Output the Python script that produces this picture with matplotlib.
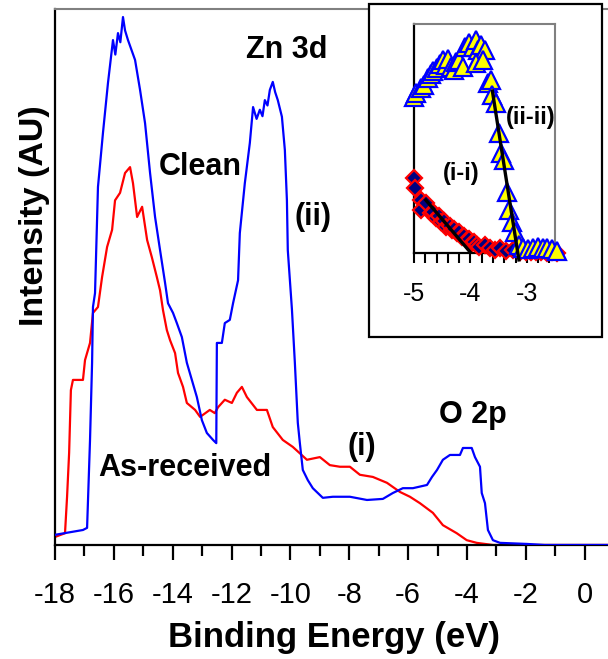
import matplotlib
matplotlib.use("Agg")
import matplotlib.pyplot as plt
from matplotlib.patches import Rectangle
from matplotlib.ticker import MultipleLocator

plt.rcParams['font.family'] = ['Liberation Sans', 'DejaVu Sans']

# ---------------- main spectra ----------------
clean_E = [-18.0, -17.05, -16.91, -16.81, -16.74, -16.71, -16.64, -16.54, -16.37, -16.20,
           -16.03, -15.95, -15.86, -15.78, -15.69, -15.62, -15.52, -15.28, -15.11, -14.94, -14.77, -14.60, -14.43,
           -14.26, -14.16, -13.99, -13.86, -13.69, -13.52, -13.35, -13.18, -13.01, -12.84,
           -12.63, -12.52, -12.50, -12.33, -12.23, -12.06, -11.95, -11.78, -11.72, -11.55,
           -11.38, -11.27, -11.15, -11.04, -10.95, -10.87, -10.78, -10.70, -10.60, -10.52, -10.43, -10.29, -10.19, -10.12,
           -10.09, -9.95, -9.85, -9.75, -9.68, -9.58, -9.41, -9.24, -8.90, -8.56,
           -7.98, -7.40, -6.86, -6.52, -6.18, -5.84, -5.36, -5.19, -5.02, -4.82,
           -4.58, -4.24, -4.14, -3.84, -3.73, -3.56, -3.50, -3.39, -3.29, -3.12,
           -2.88, -1.97, -1.36, 0.8]
clean_I = [1.9, 2.8, 3.2, 19.6, 34.0, 44.4, 47.0, 66.8, 76.9, 86.2,
           94.2, 91.5, 95.5, 93.8, 98.5, 96.0, 94.2, 90.5, 84.9, 78.7, 69.4, 61.2, 55.0,
           48.9, 45.1, 43.3, 41.4, 38.8, 34.0, 30.8, 27.6, 23.3, 20.9,
           19.6, 19.0, 37.7, 37.7, 41.4, 42.0, 45.1, 49.4, 58.2, 67.5,
           75.0, 81.7, 79.5, 81.2, 80.0, 83.0, 82.0, 84.9, 86.4, 84.5, 83.0, 79.9, 73.7, 64.3,
           55.0, 44.0, 34.0, 22.8, 19.0, 14.0, 12.1, 10.6, 8.8, 9.0,
           9.0, 8.4, 8.6, 9.7, 10.6, 10.6, 11.2, 12.7, 14.0, 15.9,
           16.8, 16.8, 18.1, 18.1, 16.4, 14.6, 9.7, 7.8, 2.8, 0.9,
           0.4, 0.2, 0.0, 0.0]

asrec_E = [-18.0, -17.66, -17.59, -17.52, -17.46, -17.39, -17.05, -16.98, -16.81, -16.71,
           -16.54, -16.40, -16.23, -16.06, -15.96, -15.79, -15.62, -15.45, -15.35, -15.21,
           -15.04, -14.87, -14.71, -14.54, -14.43, -14.33, -14.20, -14.09, -13.92, -13.82,
           -13.65, -13.52, -13.24, -13.07, -12.74, -12.57, -12.46, -12.23, -11.99, -11.82,
           -11.65, -11.48, -11.14, -10.80, -10.60, -10.26, -9.92, -9.44, -9.00, -8.66,
           -8.32, -7.98, -7.64, -7.20, -6.72, -6.28, -5.94, -5.60, -5.16, -4.82,
           -4.35, -4.01, -3.67, -3.12, 0.8]
asrec_I = [1.5, 2.2, 9.0, 17.2, 28.9, 30.8, 30.8, 34.5, 37.7, 43.3,
           44.4, 50.0, 55.6, 58.8, 64.3, 65.7, 69.4, 70.5, 67.5, 61.2,
           63.1, 56.9, 53.7, 50.0, 47.5, 43.8, 40.1, 38.2, 35.8, 32.1,
           29.5, 26.5, 25.2, 23.9, 25.2, 24.6, 25.7, 27.1, 26.5, 28.4,
           29.5, 27.6, 25.2, 25.2, 22.0, 19.6, 18.3, 15.9, 16.4, 14.9,
           14.6, 14.6, 13.1, 12.7, 11.6, 9.9, 9.0, 7.8, 6.0, 3.7,
           2.2, 0.9, 0.4, 0.0, 0.0]

main_xticks = [-18, -16, -14, -12, -10, -8, -6, -4, -2, 0]

# ---------------- inset (valence band edge) ----------------
tri_E = [-5.00, -4.96, -4.88, -4.82, -4.76, -4.70, -4.66, -4.60, -4.54, -4.49,
         -4.43, -4.39, -4.34, -4.29, -4.26, -4.20, -4.14, -4.09, -4.02, -3.96,
         -3.90, -3.86, -3.81, -3.75, -3.90, -3.77, -3.69, -3.63, -3.61, -3.55,
         -3.49, -3.45, -3.41, -3.35, -3.32, -3.27, -3.21, -3.14, -3.07, -2.98,
         -2.89, -2.80, -2.72, -2.65, -2.56, -2.47]
tri_I = [0.683, 0.697, 0.719, 0.734, 0.763, 0.782, 0.796, 0.806, 0.825, 0.843,
         0.821, 0.846, 0.814, 0.799, 0.836, 0.843, 0.814, 0.901, 0.916, 0.901,
         0.930, 0.886, 0.908, 0.886, 0.828, 0.843, 0.741, 0.755, 0.690, 0.654,
         0.523, 0.435, 0.406, 0.268, 0.188, 0.137, 0.093, 0.035, 0.020, 0.016,
         0.020, 0.028, 0.020, 0.020, 0.016, 0.010]

dia_E = [-5.00, -4.98, -4.88, -4.88, -4.79, -4.70, -4.66, -4.61, -4.56, -4.52,
         -4.47, -4.43, -4.37, -4.33, -4.29, -4.24, -4.20, -4.15, -4.11, -4.06,
         -4.02, -3.97, -3.93, -3.88, -3.84, -3.75, -3.66, -3.57, -3.48, -3.36,
         -3.24, -3.12, -3.01, -2.92, -2.83, -2.74, -2.65, -2.56, -2.47]
dia_I = [0.326, 0.282, 0.231, 0.188, 0.217, 0.173, 0.180, 0.151, 0.160, 0.137,
         0.140, 0.115, 0.118, 0.100, 0.104, 0.086, 0.090, 0.071, 0.075, 0.057,
         0.062, 0.042, 0.050, 0.035, 0.028, 0.035, 0.020, 0.013, 0.020, 0.010,
         0.013, 0.006, 0.006, 0.003, 0.003, 0.006, 0.000, 0.003, 0.000]

fit_i_E = [-4.79, -3.99]
fit_i_I = [0.231, 0.0]
fit_ii_E = [-3.61, -3.14]
fit_ii_I = [0.707, -0.03]

inset_xticks = [-5, -4, -3]

# ---------------- figure ----------------
W, H = 608, 659
fig = plt.figure(figsize=(W / 100, H / 100), dpi=100)

ax = fig.add_axes([55 / W, 1 - 545 / H, 1 - 55 / W, (545 - 9) / H])
ax.plot(clean_E, clean_I, color='#0000ff', lw=1.6, zorder=3)
ax.plot(asrec_E, asrec_I, color='#ff0000', lw=1.6, zorder=2)
ax.set_xlim(-18, 0.79)
ax.set_ylim(0, 100)
ax.set_xticks(main_xticks)
ax.set_xticklabels([str(t) for t in main_xticks])
ax.xaxis.set_minor_locator(MultipleLocator(1))
ax.set_yticks([])
ax.tick_params(axis='x', which='major', direction='out', length=11, width=1.6,
               labelsize=21, pad=15)
ax.tick_params(axis='x', which='minor', direction='out', length=8, width=1.6)
ax.spines['right'].set_visible(False)
ax.spines['top'].set_color('#808080')
ax.spines['top'].set_linewidth(1.5)
ax.spines['left'].set_linewidth(1.6)
ax.spines['bottom'].set_linewidth(1.6)

bold = dict(fontweight='bold', ha='center', va='center', color='black')
ax.text(-10.12, 92.4, 'Zn 3d', fontsize=22, **bold)
ax.text(-13.07, 70.5, 'Clean', fontsize=22, **bold)
ax.text(-9.24, 61.2, '(ii)', fontsize=22, **bold)
ax.text(-13.58, 14.4, 'As-received', fontsize=22, **bold)
ax.text(-7.57, 18.3, '(i)', fontsize=22, **bold)
ax.text(-3.80, 24.3, 'O 2p', fontsize=22, **bold)

fig.text(334 / W, 1 - 647 / H, 'Binding Energy (eV)', fontsize=25, fontweight='bold',
         ha='center', va='baseline')
fig.text(35 / W, 1 - 216 / H, 'Intensity (AU)', fontsize=24.5, fontweight='bold',
         ha='center', va='center', rotation=90)

# inset frame
frame = Rectangle((369 / W, 1 - 337 / H), (602 - 369) / W, (337 - 4) / H,
                  transform=fig.transFigure, facecolor='white', edgecolor='black',
                  lw=1.6, zorder=5)
fig.add_artist(frame)

axi = fig.add_axes([414 / W, 1 - 253 / H, (555 - 414) / W, (253 - 24) / H])
axi.set_zorder(10)
axi.plot(dia_E, dia_I, linestyle='none', marker='D', ms=8, mfc='#000080',
         mec='#ff0000', mew=1.6, clip_on=False, zorder=3)
axi.plot(tri_E, tri_I, linestyle='none', marker='^', ms=12.5, mfc='#ffff00',
         mec='#0000ff', mew=1.6, clip_on=False, zorder=4)
axi.plot(fit_i_E, fit_i_I, color='black', lw=2.4, zorder=5)
axi.plot(fit_ii_E, fit_ii_I, color='black', lw=2.4, zorder=5, clip_on=False)
axi.set_xlim(-5, -2.5)
axi.set_ylim(0, 1)
axi.set_xticks(inset_xticks)
axi.set_xticklabels([str(t) for t in inset_xticks])
axi.xaxis.set_minor_locator(MultipleLocator(0.2))
axi.set_yticks([])
axi.tick_params(axis='x', which='both', direction='out', length=7, width=1.5,
                labelsize=18, pad=14)
for s in ('top', 'right'):
    axi.spines[s].set_color('#808080')
    axi.spines[s].set_linewidth(1.5)
for s in ('left', 'bottom'):
    axi.spines[s].set_linewidth(1.6)
axi.text(-4.16, 0.349, '(i-i)', fontsize=17, **bold)
axi.text(-2.93, 0.590, '(ii-ii)', fontsize=17, **bold)

fig.savefig('out.png', dpi=100)
